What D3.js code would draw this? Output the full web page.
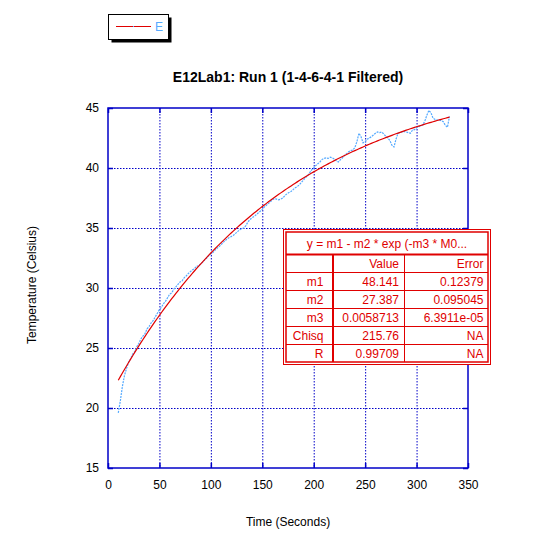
<!DOCTYPE html>
<html>
<head>
<meta charset="utf-8">
<script src="https://cdn.jsdelivr.net/npm/d3@7"></script>
<style>
  body { margin: 0; background: #fff; }
  svg { display: block; font-family: "Liberation Sans", Arial, sans-serif; }
</style>
</head>
<body>
<div id="chart"></div>
<script>
const chartTitle = 'E12Lab1: Run 1 (1-4-6-4-1 Filtered)';
const seriesName = 'E';
const xTicks = [0, 50, 100, 150, 200, 250, 300, 350];
const yTicks = [15, 20, 25, 30, 35, 40, 45];

// sample times (s), one reading every 2 s
const times = d3.range(10, 333, 2);
const temps = [
  19.6, 20.6, 21.8, 22.7, 23.3, 23.8, 24.1, 24.5, 24.7, 25.1,
  25.4, 25.75, 26.0, 26.2, 26.6, 26.8, 27.1, 27.3, 27.6, 27.9,
  28.2, 28.4, 28.7, 28.9, 29.2, 29.5, 29.6, 29.9, 30.1, 30.3,
  30.5, 30.6, 30.85, 31.0, 31.2, 31.35, 31.5, 31.6, 31.8, 31.85,
  32.0, 32.15, 32.35, 32.5, 32.7, 32.85, 32.95, 33.15, 33.3, 33.45,
  33.6, 33.8, 33.95, 34.1, 34.2, 34.3, 34.4, 34.55, 34.7, 34.85,
  34.95, 35.0, 35.2, 35.5, 35.7, 35.85, 35.95, 36.1, 36.25, 36.4,
  36.55, 36.75, 36.9, 37.05, 37.2, 37.35, 37.45, 37.4, 37.35, 37.4,
  37.5, 37.7, 37.85, 37.95, 38.05, 38.2, 38.35, 38.45, 38.6, 38.8,
  39.0, 39.2, 39.35, 39.6, 39.85, 40.0, 40.2, 40.35, 40.5, 40.7,
  40.8, 40.85, 40.8, 40.9, 40.85, 40.75, 40.6, 40.5, 40.7, 40.85,
  41.05, 41.2, 41.35, 41.45, 41.5, 41.7, 42.2, 42.9, 42.6, 42.1,
  42.2, 42.4, 42.5, 42.6, 42.75, 42.9, 43.0, 42.95, 43.0, 42.85,
  42.65, 42.5, 42.3, 41.9, 41.75, 42.4, 42.9, 42.95, 43.0, 43.05,
  43.0, 42.95, 42.9, 43.15, 43.2, 43.35, 43.45, 43.5, 43.6, 43.9,
  44.4, 44.8, 44.6, 44.15, 44.05, 44.0, 44.0, 43.95, 43.85, 43.55,
  43.4, 44.3
];

// curve fit y = m1 - m2 * exp(-m3 * t)
const fitNames = ['m1', 'm2', 'm3', 'Chisq', 'R'];
const fitValues = ['48.141', '27.387', '0.0058713', '215.76', '0.99709'];
const fitErrors = ['0.12379', '0.095045', '6.3911e-05', 'NA', 'NA'];
const fitLabel = 'y = m1 - m2 * exp (-m3 * M0...';

const W = 540, H = 540;
const blue = '#0000c8';
const red = '#e00000';
const dataColor = '#55aaff';

const svg = d3.select('#chart').append('svg')
  .attr('width', W)
  .attr('height', H);
svg.append('rect').attr('width', W).attr('height', H).attr('fill', '#fff');

const x = d3.scaleLinear().domain([0, 350]).range([108, 468]);
const y = d3.scaleLinear().domain([15, 45]).range([468, 108]);

// grid
const grid = svg.append('g');
grid.selectAll('.vg')
  .data(xTicks.slice(1, -1))
  .enter().append('line')
  .attr('x1', d => x(d) + 0.5).attr('x2', d => x(d) + 0.5)
  .attr('y1', y(45)).attr('y2', y(15))
  .attr('stroke', blue).attr('stroke-width', 1)
  .attr('stroke-dasharray', '1.5,1.5');
grid.selectAll('.hg')
  .data(yTicks.slice(1, -1))
  .enter().append('line')
  .attr('x1', x(0)).attr('x2', x(350))
  .attr('y1', d => y(d) + 0.5).attr('y2', d => y(d) + 0.5)
  .attr('stroke', blue).attr('stroke-width', 1)
  .attr('stroke-dasharray', '1.5,1.5');

// axes with inward ticks on all four sides
function styleAxis(g) {
  g.select('.domain').remove();
  g.selectAll('.tick line').attr('stroke', blue).attr('stroke-width', 1.5);
  g.selectAll('.tick text').attr('fill', '#000').attr('font-size', 12);
}
svg.append('g').attr('transform', `translate(0,${y(15)})`)
  .call(d3.axisBottom(x).tickValues(xTicks).tickSizeInner(-5).tickSizeOuter(0).tickPadding(12))
  .call(styleAxis);
svg.append('g').attr('transform', `translate(0,${y(45)})`)
  .call(d3.axisTop(x).tickValues(xTicks).tickSizeInner(-5).tickSizeOuter(0).tickFormat(''))
  .call(styleAxis);
svg.append('g').attr('transform', `translate(${x(0)},0)`)
  .call(d3.axisLeft(y).tickValues(yTicks).tickSizeInner(-5).tickSizeOuter(0).tickPadding(9))
  .call(styleAxis);
svg.append('g').attr('transform', `translate(${x(350)},0)`)
  .call(d3.axisRight(y).tickValues(yTicks).tickSizeInner(-5).tickSizeOuter(0).tickFormat(''))
  .call(styleAxis);

svg.append('rect')
  .attr('x', x(0)).attr('y', y(45))
  .attr('width', x(350) - x(0)).attr('height', y(15) - y(45))
  .attr('fill', 'none').attr('stroke', blue).attr('stroke-width', 1.5);

// data
const pts = times.map((t, i) => [t, temps[i]]);
svg.append('path')
  .datum(pts)
  .attr('fill', 'none')
  .attr('stroke', dataColor)
  .attr('stroke-width', 1.2)
  .attr('stroke-dasharray', '2,1')
  .attr('d', d3.line().x(d => x(d[0])).y(d => y(d[1])));

// fit curve from the table parameters
const m1 = +fitValues[0], m2 = +fitValues[1], m3 = +fitValues[2];
svg.append('path')
  .datum(times)
  .attr('fill', 'none')
  .attr('stroke', red)
  .attr('stroke-width', 1.2)
  .attr('d', d3.line().x(t => x(t)).y(t => y(m1 - m2 * Math.exp(-m3 * t))));

// titles
svg.append('text')
  .attr('x', 288).attr('y', 82)
  .attr('text-anchor', 'middle')
  .attr('font-size', 14).attr('font-weight', 'bold')
  .text(chartTitle);
svg.append('text')
  .attr('x', 288).attr('y', 526)
  .attr('text-anchor', 'middle')
  .attr('font-size', 12)
  .text('Time (Seconds)');
svg.append('text')
  .attr('transform', 'translate(36,285) rotate(-90)')
  .attr('text-anchor', 'middle')
  .attr('font-size', 12)
  .text('Temperature (Celsius)');

// legend
const leg = svg.append('g');
leg.append('rect').attr('x', 111.5).attr('y', 17.5).attr('width', 60).attr('height', 25).attr('fill', '#000');
leg.append('rect').attr('x', 108.5).attr('y', 14.5).attr('width', 60).attr('height', 25)
  .attr('fill', '#fff').attr('stroke', '#000').attr('stroke-width', 1);
leg.append('line').attr('x1', 116).attr('x2', 151).attr('y1', 26.5).attr('y2', 26.5)
  .attr('stroke', red).attr('stroke-width', 1);
leg.append('rect').attr('x', 133).attr('y', 26).attr('width', 1).attr('height', 1).attr('fill', dataColor);
leg.append('text').attr('x', 155).attr('y', 31).attr('font-size', 12)
  .attr('fill', dataColor).text(seriesName);

// fit table
const tb = svg.append('g');
const tx0 = 283.5, tx1 = 490.5, ty0 = 229.5, ty1 = 364.5;
const ix0 = 286, ix1 = 488, iy0 = 232, iy1 = 362;
const colX = [ix0, 333, 404.5, ix1];
const rowY = [iy0, 254.5, 272.5, 290.5, 308.5, 326.5, 344.5, iy1];
tb.append('rect').attr('x', tx0).attr('y', ty0).attr('width', tx1 - tx0).attr('height', ty1 - ty0)
  .attr('fill', '#fff').attr('stroke', red).attr('stroke-width', 1);
tb.append('rect').attr('x', ix0).attr('y', iy0).attr('width', ix1 - ix0).attr('height', iy1 - iy0)
  .attr('fill', 'none').attr('stroke', red).attr('stroke-width', 1.5);
tb.selectAll('.rl')
  .data(rowY.slice(1, -1))
  .enter().append('line')
  .attr('x1', ix0).attr('x2', ix1)
  .attr('y1', d => d).attr('y2', d => d)
  .attr('stroke', red).attr('stroke-width', (d, i) => i === 0 ? 2 : 1);
tb.selectAll('.cl')
  .data(colX.slice(1, -1))
  .enter().append('line')
  .attr('x1', d => d).attr('x2', d => d)
  .attr('y1', rowY[1]).attr('y2', iy1)
  .attr('stroke', red).attr('stroke-width', (d, i) => i === 0 ? 2 : 1);
tb.append('text')
  .attr('x', (ix0 + ix1) / 2).attr('y', 248)
  .attr('text-anchor', 'middle').attr('font-size', 12).attr('fill', red)
  .text(fitLabel);
const headers = ['', 'Value', 'Error'];
const rightEdge = [323.5, 399, 483.5];
const rowsText = [headers].concat(fitNames.map((n, i) => [n, fitValues[i], fitErrors[i]]));
rowsText.forEach((row, r) => {
  row.forEach((cell, c) => {
    tb.append('text')
      .attr('x', rightEdge[c]).attr('y', rowY[r + 1] + 13.5)
      .attr('text-anchor', 'end').attr('font-size', 12).attr('fill', red)
      .text(cell);
  });
});
</script>
</body>
</html>
